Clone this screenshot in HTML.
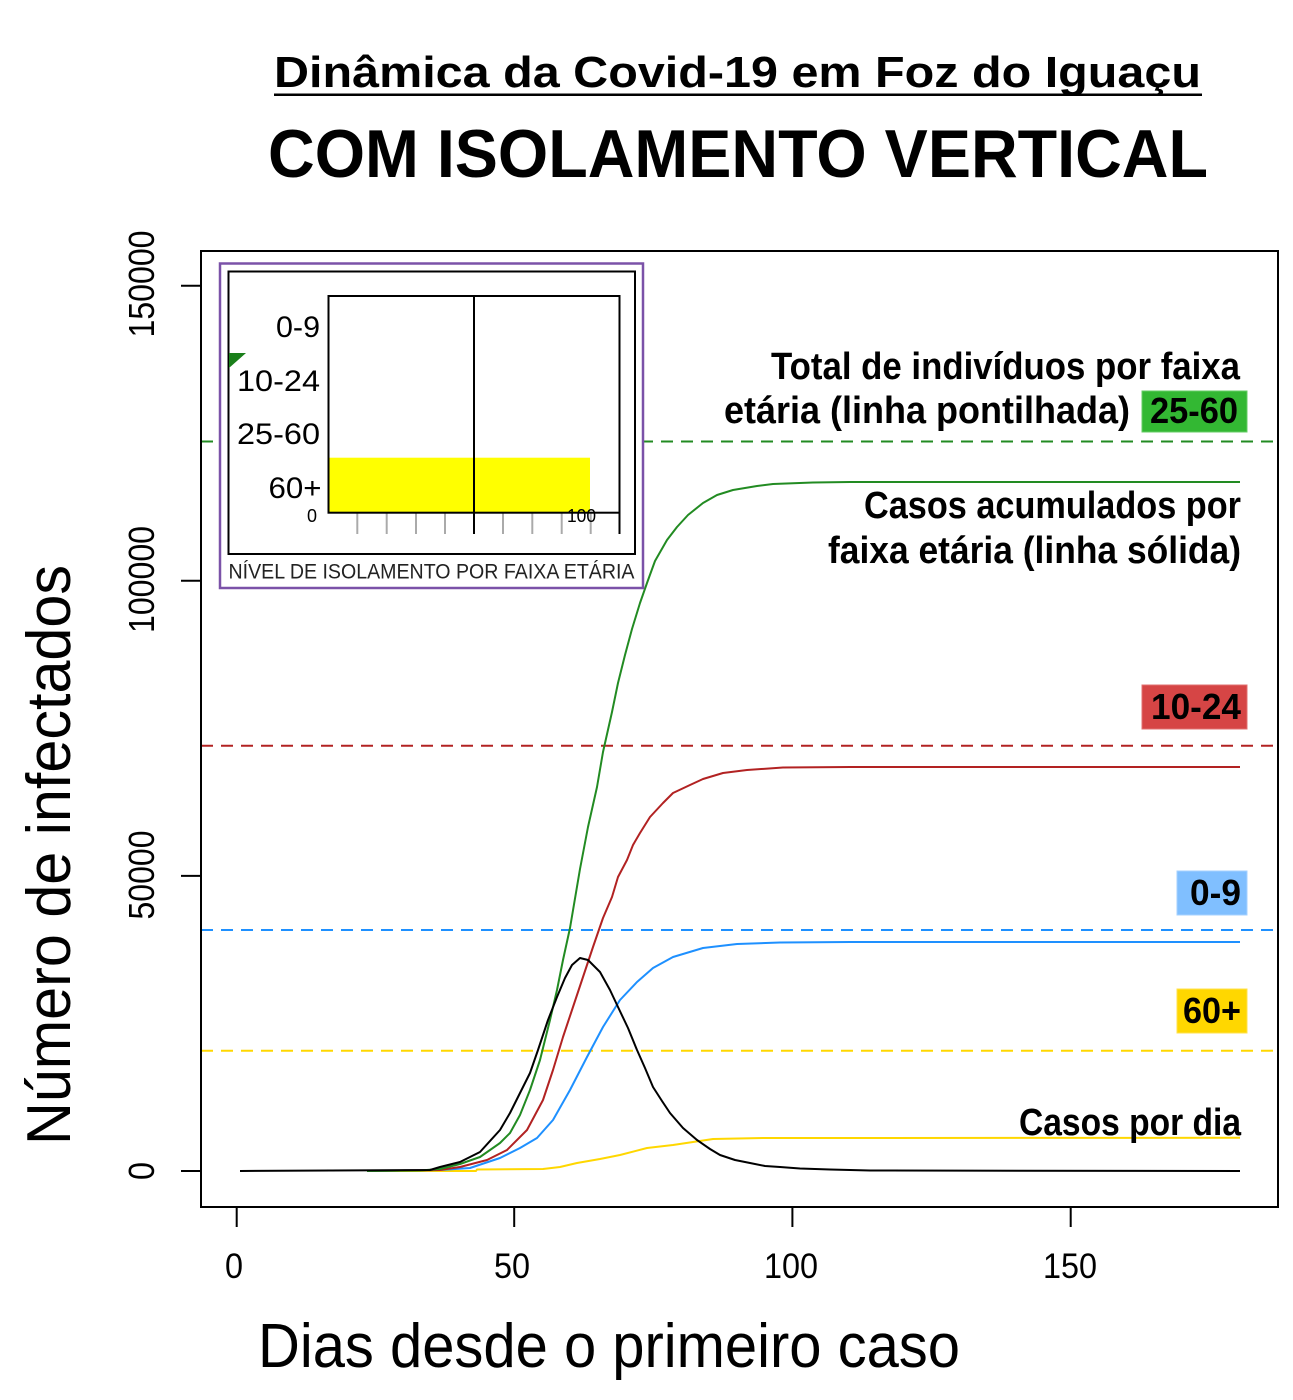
<!DOCTYPE html>
<html>
<head>
<meta charset="utf-8">
<style>
  html, body { margin: 0; padding: 0; background: #ffffff; }
  body { width: 1293px; height: 1400px; overflow: hidden; }
  svg { display: block; }
  text { font-family: "Liberation Sans", Arial, sans-serif; }
</style>
</head>
<body>
<svg width="1293" height="1400" viewBox="0 0 1293 1400" xmlns="http://www.w3.org/2000/svg">
  <rect x="0" y="0" width="1293" height="1400" fill="#ffffff"/>

  <!-- Titles -->
  <text x="274" y="87" font-size="44" font-weight="bold" fill="#000" textLength="927" lengthAdjust="spacingAndGlyphs">Dinâmica da Covid-19 em Foz do Iguaçu</text>
  <rect x="274" y="93.5" width="928" height="2.5" fill="#000"/>
  <text x="268" y="177" font-size="68" font-weight="bold" fill="#000" textLength="940" lengthAdjust="spacingAndGlyphs">COM ISOLAMENTO VERTICAL</text>

  <!-- Dashed total lines -->
  <g fill="none" stroke-width="2" stroke-dasharray="12 8">
    <line x1="201" y1="441.5" x2="1278" y2="441.5" stroke="#228b22"/>
    <line x1="201" y1="745.7" x2="1278" y2="745.7" stroke="#b22222"/>
    <line x1="201" y1="930" x2="1278" y2="930" stroke="#1e90ff"/>
    <line x1="201" y1="1050.7" x2="1278" y2="1050.7" stroke="#ffd700"/>
  </g>

  <!-- Series -->
  <g fill="none" stroke-width="2" stroke-linejoin="round">
    <polyline stroke="#ffd700" points="367,1171 476,1171 477,1169.5 543,1169 560,1167 577,1163 600,1159 620,1155 647,1148 673,1145 693,1142 713,1139 763,1138 1240,1137.8"/>
    <polyline stroke="#1e90ff" points="367,1171 440,1170 470,1168 500,1158 520,1148 537,1138 553,1120 570,1090 587,1057 603,1027 620,1000 637,982 653,968 673,957 703,948 737,944 780,942.5 850,942 1240,942"/>
    <polyline stroke="#b22222" points="367,1171 440,1170 460,1167 487,1160 507,1150 527,1130 543,1100 553,1070 563,1037 573,1007 583,977 593,947 603,918 612,897 618,877 627,860 633,845 640,833 650,817 663,803 673,793 690,785 703,779 723,773 747,770 783,767.5 850,767 1240,767"/>
    <polyline stroke="#228b22" points="367,1171 420,1170.5 440,1169 460,1164 480,1157 500,1143 510,1133 520,1115 530,1090 540,1060 550,1020 557,990 563,960 570,928 580,869 588,827 597,787 603,752 612,712 618,683 625,655 632,629 640,603 647,583 655,561 667,540 677,527 688,515 703,503 717,495 733,490 757,486 773,484 813,482.5 850,482 1240,482"/>
    <polyline stroke="#000000" points="240,1171 430,1170 440,1167 460,1162 480,1152 500,1130 510,1113 520,1093 530,1073 538,1050 548,1020 557,997 565,978 572,965 580,958 588,960 600,972 610,990 618,1007 628,1028 637,1050 645,1068 653,1087 662,1101 670,1113 683,1128 697,1140 710,1149 720,1155 735,1160 750,1163 765,1166 780,1167 800,1168.5 830,1169.5 870,1170.5 1240,1171"/>
  </g>

  <!-- Inset -->
  <rect x="220" y="263.5" width="423" height="324.5" fill="#ffffff" stroke="#7b52a8" stroke-width="2.5"/>
  <rect x="228.5" y="271.5" width="406.5" height="282.5" fill="#ffffff" stroke="#000" stroke-width="2"/>
  <rect x="329" y="457.7" width="261" height="55" fill="#ffff00"/>
  <g stroke="#aaaaaa" stroke-width="2">
    <line x1="357.3" y1="513" x2="357.3" y2="534"/>
    <line x1="386.7" y1="513" x2="386.7" y2="534"/>
    <line x1="416" y1="513" x2="416" y2="534"/>
    <line x1="445" y1="513" x2="445" y2="534"/>
    <line x1="503" y1="513" x2="503" y2="534"/>
    <line x1="532.3" y1="513" x2="532.3" y2="534"/>
    <line x1="561.7" y1="513" x2="561.7" y2="534"/>
    <line x1="590.7" y1="513" x2="590.7" y2="534"/>
  </g>
  <rect x="328.5" y="296" width="291" height="216.7" fill="none" stroke="#000" stroke-width="2"/>
  <line x1="474" y1="296" x2="474" y2="534" stroke="#000" stroke-width="2"/>
  <line x1="619.5" y1="512" x2="619.5" y2="534" stroke="#000" stroke-width="2"/>
  <polygon points="229,353 246,353 229,368" fill="#1a7f1a"/>
  <g font-size="30" fill="#000" text-anchor="end">
    <text x="320" y="337" textLength="44" lengthAdjust="spacingAndGlyphs">0-9</text>
    <text x="320" y="391" textLength="83" lengthAdjust="spacingAndGlyphs">10-24</text>
    <text x="320" y="444" textLength="83" lengthAdjust="spacingAndGlyphs">25-60</text>
    <text x="321.5" y="498" textLength="53" lengthAdjust="spacingAndGlyphs">60+</text>
  </g>
  <text x="312" y="522" font-size="18" fill="#000" text-anchor="middle">0</text>
  <text x="567" y="522" font-size="18" fill="#000" textLength="29" lengthAdjust="spacingAndGlyphs">100</text>
  <text x="228.5" y="578.5" font-size="21" fill="#222" textLength="406" lengthAdjust="spacingAndGlyphs">NÍVEL DE ISOLAMENTO POR FAIXA ETÁRIA</text>

  <!-- Plot box -->
  <rect x="201" y="251" width="1077" height="956" fill="none" stroke="#000" stroke-width="2"/>

  <!-- Y ticks -->
  <g stroke="#000" stroke-width="2">
    <line x1="181" y1="285.7" x2="201" y2="285.7"/>
    <line x1="181" y1="580.8" x2="201" y2="580.8"/>
    <line x1="181" y1="875.9" x2="201" y2="875.9"/>
    <line x1="181" y1="1171" x2="201" y2="1171"/>
  </g>
  <!-- X ticks -->
  <g stroke="#000" stroke-width="2">
    <line x1="236.7" y1="1207" x2="236.7" y2="1227"/>
    <line x1="514.2" y1="1207" x2="514.2" y2="1227"/>
    <line x1="792.4" y1="1207" x2="792.4" y2="1227"/>
    <line x1="1070.7" y1="1207" x2="1070.7" y2="1227"/>
  </g>

  <!-- Y tick labels (rotated) -->
  <g font-size="36" fill="#000" text-anchor="middle">
    <text transform="translate(154,284) rotate(-90)" x="0" y="0" textLength="107" lengthAdjust="spacingAndGlyphs">150000</text>
    <text transform="translate(154,579.5) rotate(-90)" x="0" y="0" textLength="107" lengthAdjust="spacingAndGlyphs">100000</text>
    <text transform="translate(154,875) rotate(-90)" x="0" y="0" textLength="89" lengthAdjust="spacingAndGlyphs">50000</text>
    <text transform="translate(154,1171) rotate(-90)" x="0" y="0" textLength="18" lengthAdjust="spacingAndGlyphs">0</text>
  </g>

  <!-- X tick labels -->
  <g font-size="35" fill="#000" text-anchor="middle">
    <text x="234" y="1278" textLength="18" lengthAdjust="spacingAndGlyphs">0</text>
    <text x="512" y="1278" textLength="36" lengthAdjust="spacingAndGlyphs">50</text>
    <text x="791" y="1278" textLength="54" lengthAdjust="spacingAndGlyphs">100</text>
    <text x="1070" y="1278" textLength="54" lengthAdjust="spacingAndGlyphs">150</text>
  </g>

  <!-- Axis titles -->
  <text x="258" y="1367" font-size="62" fill="#000" textLength="702" lengthAdjust="spacingAndGlyphs">Dias desde o primeiro caso</text>
  <text transform="translate(70,1145) rotate(-90)" x="0" y="0" font-size="62" fill="#000" textLength="580" lengthAdjust="spacingAndGlyphs">Número de infectados</text>

  <!-- Annotations -->
  <g font-size="38" font-weight="bold" fill="#000">
    <text x="771" y="379" textLength="469" lengthAdjust="spacingAndGlyphs">Total de indivíduos por faixa</text>
    <text x="724" y="423" textLength="406" lengthAdjust="spacingAndGlyphs">etária (linha pontilhada)</text>
    <text x="864" y="518" textLength="377" lengthAdjust="spacingAndGlyphs">Casos acumulados por</text>
    <text x="828" y="563" textLength="413" lengthAdjust="spacingAndGlyphs">faixa etária (linha sólida)</text>
    <text x="1019" y="1135" textLength="222" lengthAdjust="spacingAndGlyphs">Casos por dia</text>
  </g>

  <!-- Colored labels -->
  <rect x="1142" y="391" width="105" height="41" fill="#33b833" stroke="#66cc66" stroke-width="1"/>
  <rect x="1142" y="685" width="105" height="44" fill="#d64545" stroke="#e07070" stroke-width="1"/>
  <rect x="1177" y="871" width="70" height="44" fill="#80bfff" stroke="#a6d2ff" stroke-width="1"/>
  <rect x="1177" y="989" width="70" height="44" fill="#ffd700" stroke="#ffe24d" stroke-width="1"/>
  <g font-size="36" font-weight="bold" fill="#000">
    <text x="1150" y="423" textLength="88" lengthAdjust="spacingAndGlyphs">25-60</text>
    <text x="1151" y="719" textLength="90" lengthAdjust="spacingAndGlyphs">10-24</text>
    <text x="1190" y="905" textLength="51" lengthAdjust="spacingAndGlyphs">0-9</text>
    <text x="1183" y="1023" textLength="58" lengthAdjust="spacingAndGlyphs">60+</text>
  </g>
</svg>
</body>
</html>
